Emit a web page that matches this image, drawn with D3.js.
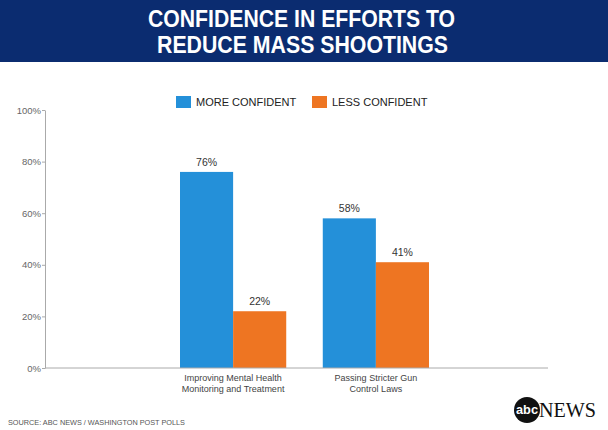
<!DOCTYPE html>
<html><head><meta charset="utf-8">
<script src="https://cdn.jsdelivr.net/npm/d3@7"></script>
<style>html,body{margin:0;padding:0;background:#fff;}svg{display:block;}</style>
</head><body>
<svg id="c" width="608" height="430"></svg>
<script>
const titleLines = ["CONFIDENCE IN EFFORTS TO", "REDUCE MASS SHOOTINGS"];
const categories = [["Improving Mental Health", "Monitoring and Treatment"], ["Passing Stricter Gun", "Control Laws"]];
const seriesNames = ["MORE CONFIDENT", "LESS CONFIDENT"];
const moreConfident = [76, 58];
const lessConfident = [22, 41];
const yTicks = [0, 20, 40, 60, 80, 100];
const source = "SOURCE: ABC NEWS / WASHINGTON POST POLLS";
const colors = ["#2490d9", "#ee7522"];

const svg = d3.select("#c");
const W = 608, H = 430;

// header
svg.append("rect").attr("x", 0).attr("y", 0).attr("width", W).attr("height", 62).attr("fill", "#0b2c70");
const tl = [[148, 455, 27], [157, 448, 53]];
titleLines.forEach((t, i) => {
  svg.append("text").attr("x", tl[i][0]).attr("y", tl[i][2])
    .attr("textLength", tl[i][1] - tl[i][0]).attr("lengthAdjust", "spacingAndGlyphs")
    .attr("font-family", "Liberation Sans, Arial, sans-serif").attr("font-weight", "bold")
    .attr("font-size", 23.5).attr("fill", "#fff").text(t);
});

// scales
const y = d3.scaleLinear().domain([0, 100]).range([368, 110]);
const catIdx = categories.map((c, i) => i);
const x0 = d3.scaleBand().domain(catIdx).range([180, 429]).paddingInner(0.256).paddingOuter(0);
const x1 = d3.scaleBand().domain([0, 1]).range([0, x0.bandwidth()]);

// y axis
const yAxis = d3.axisLeft(y).tickValues(yTicks).tickFormat(d => d + "%").tickSize(3).tickSizeOuter(0);
const ga = svg.append("g").attr("transform", "translate(45,0)").call(yAxis);
ga.select(".domain").attr("stroke", "#aaa");
ga.selectAll(".tick line").attr("stroke", "#aaa");
ga.selectAll(".tick text").attr("fill", "#666").attr("font-size", 9.5)
  .attr("font-family", "Liberation Sans, Arial, sans-serif").attr("x", -4);

// bars
const data = [moreConfident, lessConfident];
const g = svg.append("g");
catIdx.forEach(ci => {
  data.forEach((vals, si) => {
    const bx = x0(ci) + x1(si);
    g.append("rect").attr("x", bx).attr("y", y(vals[ci])).attr("width", x1.bandwidth())
      .attr("height", y(0) - y(vals[ci])).attr("fill", colors[si]);
    g.append("text").attr("x", bx + x1.bandwidth() / 2).attr("y", y(vals[ci]) - 6)
      .attr("text-anchor", "middle").attr("font-family", "Liberation Sans, Arial, sans-serif")
      .attr("font-size", 10.5).attr("fill", "#333").text(vals[ci] + "%");
  });
  categories[ci].forEach((line, li) => {
    svg.append("text").attr("x", x0(ci) + x0.bandwidth() / 2).attr("y", 381 + li * 10.5)
      .attr("text-anchor", "middle").attr("font-family", "Liberation Sans, Arial, sans-serif")
      .attr("font-size", 9).attr("fill", "#444").text(line);
  });
});

// baseline
svg.append("line").attr("x1", 45).attr("x2", 548).attr("y1", y(0)).attr("y2", y(0)).attr("stroke", "#aaa");

// legend
const legX = [176, 312];
seriesNames.forEach((n, i) => {
  svg.append("rect").attr("x", legX[i]).attr("y", 96).attr("width", 15).attr("height", 12).attr("fill", colors[i]);
  svg.append("text").attr("x", legX[i] + 20).attr("y", 106).attr("font-family", "Liberation Sans, Arial, sans-serif")
    .attr("font-size", 11).attr("fill", "#222").text(n);
});

// source
svg.append("text").attr("x", 8).attr("y", 425).attr("font-family", "Liberation Sans, Arial, sans-serif")
  .attr("font-size", 8).attr("fill", "#555").attr("textLength", 177).attr("lengthAdjust", "spacingAndGlyphs").text(source);

// logo
svg.append("circle").attr("cx", 527).attr("cy", 410).attr("r", 13).attr("fill", "#111");
svg.append("text").attr("x", 527).attr("y", 414).attr("text-anchor", "middle")
  .attr("font-family", "Liberation Sans, Arial, sans-serif").attr("font-weight", "bold")
  .attr("font-size", 12).attr("fill", "#fff").attr("textLength", 22).attr("lengthAdjust", "spacingAndGlyphs").text("abc");
svg.append("text").attr("x", 539).attr("y", 417).attr("textLength", 57).attr("lengthAdjust", "spacingAndGlyphs")
  .attr("font-family", "Liberation Serif, Times New Roman, serif")
  .attr("font-size", 20).attr("fill", "#111").text("NEWS");
</script>
</body></html>
